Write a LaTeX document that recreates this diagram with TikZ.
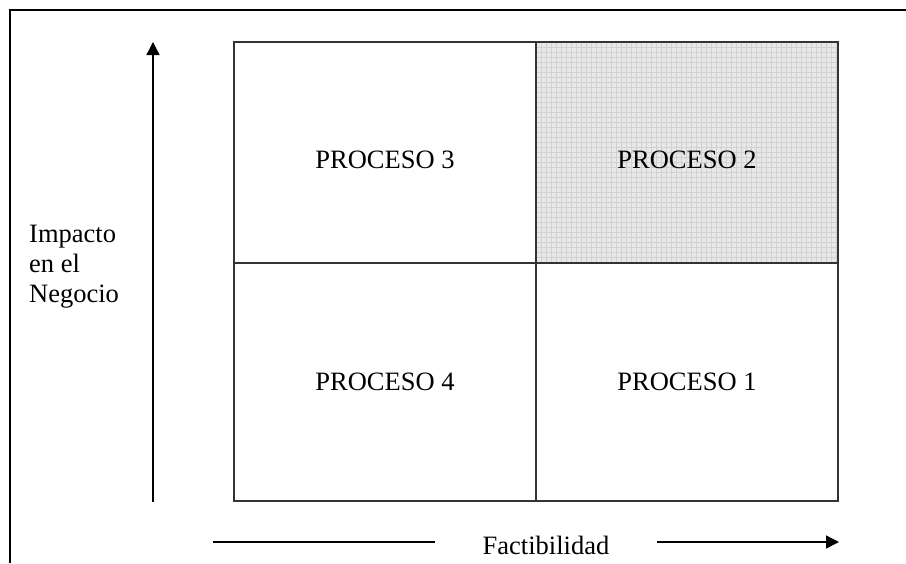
\documentclass[tikz,border=0pt]{standalone}
\usepackage{fontspec}
\setmainfont{Liberation Serif}
\usetikzlibrary{arrows.meta}
\begin{document}
\begin{tikzpicture}[x=1pt,y=-1pt,
  cellline/.style={draw=black!80,line width=1.6pt},
  axisline/.style={draw=black,line width=1.4pt},
  tip/.style={-{Triangle[length=13pt,width=13pt]}},
  lbl/.style={inner sep=0pt,font=\fontsize{26.5}{30.5}\selectfont},
  framebox/.style={draw=black,line width=1.6pt}]
\useasboundingbox (0,0) rectangle (906,563);
% outer frame (top and left)
\draw[framebox] (10,563) -- (10,10) -- (906,10);
% shaded cell
\fill[white!91!black] (536,42) rectangle (838,263);
\begin{scope}
\clip (536,42) rectangle (838,263);
\foreach \i in {0,...,61} {\draw[white!82!black,line width=1pt] (536+5*\i,42) -- (536+5*\i,263);}
\foreach \i in {0,...,45} {\draw[white!82!black,line width=1pt] (536,42+5*\i) -- (838,42+5*\i);}
\end{scope}
% grid
\draw[cellline] (234,42) rectangle (838,501);
\draw[cellline] (536,42) -- (536,501);
\draw[cellline] (234,263) -- (838,263);
% process labels
\node[lbl] (p3) at (385,160) {PROCESO 3};
\node[lbl] (p2) at (687,160) {PROCESO 2};
\node[lbl] (p4) at (385,382) {PROCESO 4};
\node[lbl] (p1) at (687,382) {PROCESO 1};
% vertical axis
\coordinate (vb) at (153,502);
\coordinate (vt) at (153,42);
\draw[axisline,tip] (vb) -- (vt);
\node[lbl,anchor=base west] (l1) at (29,242) {Impacto};
\node[lbl,anchor=base west] (l2) at (29,272) {en el};
\node[lbl,anchor=base west] (l3) at (29,302) {Negocio};
% horizontal axis
\node[lbl,anchor=base] (fx) at (546,554) {Factibilidad};
\coordinate (h1) at (213,542);
\coordinate (h2) at (435,542);
\coordinate (h3) at (657,542);
\coordinate (h4) at (839,542);
\draw[axisline] (h1) -- (h2);
\draw[axisline,tip] (h3) -- (h4);
\end{tikzpicture}
\end{document}
